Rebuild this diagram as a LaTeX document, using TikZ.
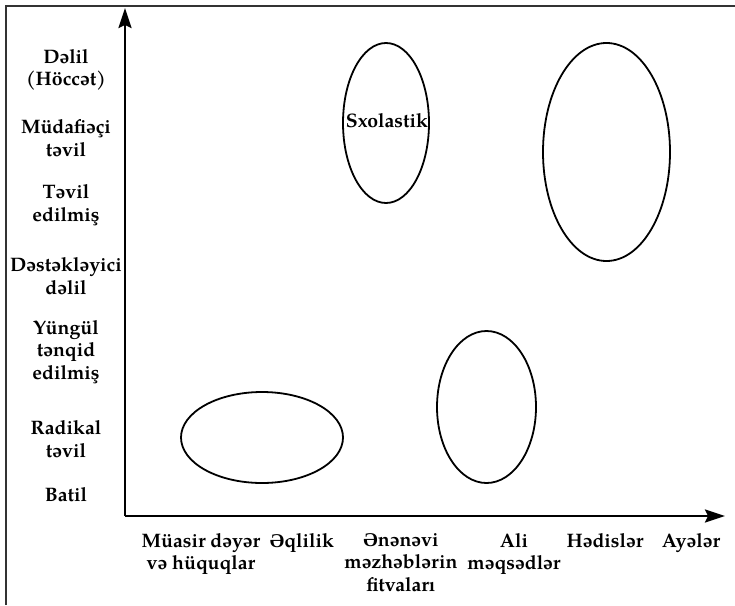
\documentclass[tikz,border=0pt]{standalone}
\usepackage{fontspec}
\setmainfont{TeX Gyre Pagella}
\newfontfamily\schwafont{Liberation Serif}
\newcommand\Schwa{{\schwafont Ə}}
\usetikzlibrary{arrows.meta}

\begin{document}
\begin{tikzpicture}[x=1pt,y=-1pt,
    lbl/.style={font=\bfseries\fontsize{19.5}{22.5}\selectfont,align=center,inner sep=0pt},
    oval/.style={line width=1.8pt},
    axis/.style={line width=2.5pt,-{Stealth[length=20pt,width=13pt,inset=3pt]}}]
    \useasboundingbox (0,0) rectangle (735,605);
    \draw[line width=1.8pt,black!80] (6,605) -- (6,6) -- (735,6);

    % axes
    \coordinate (o) at (125,516);
    \coordinate (ytop) at (125,8);
    \coordinate (xend) at (725,516);
    \draw[axis] (o) -- (ytop);
    \draw[axis] (o) -- (xend);

    % vertical scale
    \node[lbl] (delil) at (66,70) {Dəlil\\(Höccət)};
    \node[lbl] (mudafieci) at (66,138) {Müdafiəçi\\təvil};
    \node[lbl] (tevil) at (66,205) {Təvil\\edilmiş};
    \node[lbl] (destek) at (66,276) {Dəstəkləyici\\dəlil};
    \node[lbl] (yungul) at (66,352) {Yüngül\\tənqid\\edilmiş};
    \node[lbl] (radikal) at (66,439) {Radikal\\təvil};
    \node[lbl] (batil) at (66,495) {Batil};

    % horizontal scale
    \node[lbl,anchor=north] (muasir) at (201,533) {Müasir dəyər\\və hüquqlar};
    \node[lbl,anchor=north] (eqlilik) at (302,533) {\Schwa qlilik};
    \node[lbl,anchor=north] (enenevi) at (401,533) {\Schwa nənəvi\\məzhəblərin\\fitvaları};
    \node[lbl,anchor=north] (ali) at (514,533) {Ali\\məqsədlər};
    \node[lbl,anchor=north] (hedisler) at (605,533) {Hədislər};
    \node[lbl,anchor=north] (ayeler) at (691,533) {Ayələr};

    % groups
    \draw[oval] (386,123) ellipse (43 and 80);
    \node[lbl] (sxolastik) at (387,121) {Sxolastik};
    \draw[oval] (606.5,152) ellipse (63.5 and 109);
    \draw[oval] (486.5,407) ellipse (49.5 and 76);
    \draw[oval] (262,437.5) ellipse (81 and 45.5);
\end{tikzpicture}
\end{document}
